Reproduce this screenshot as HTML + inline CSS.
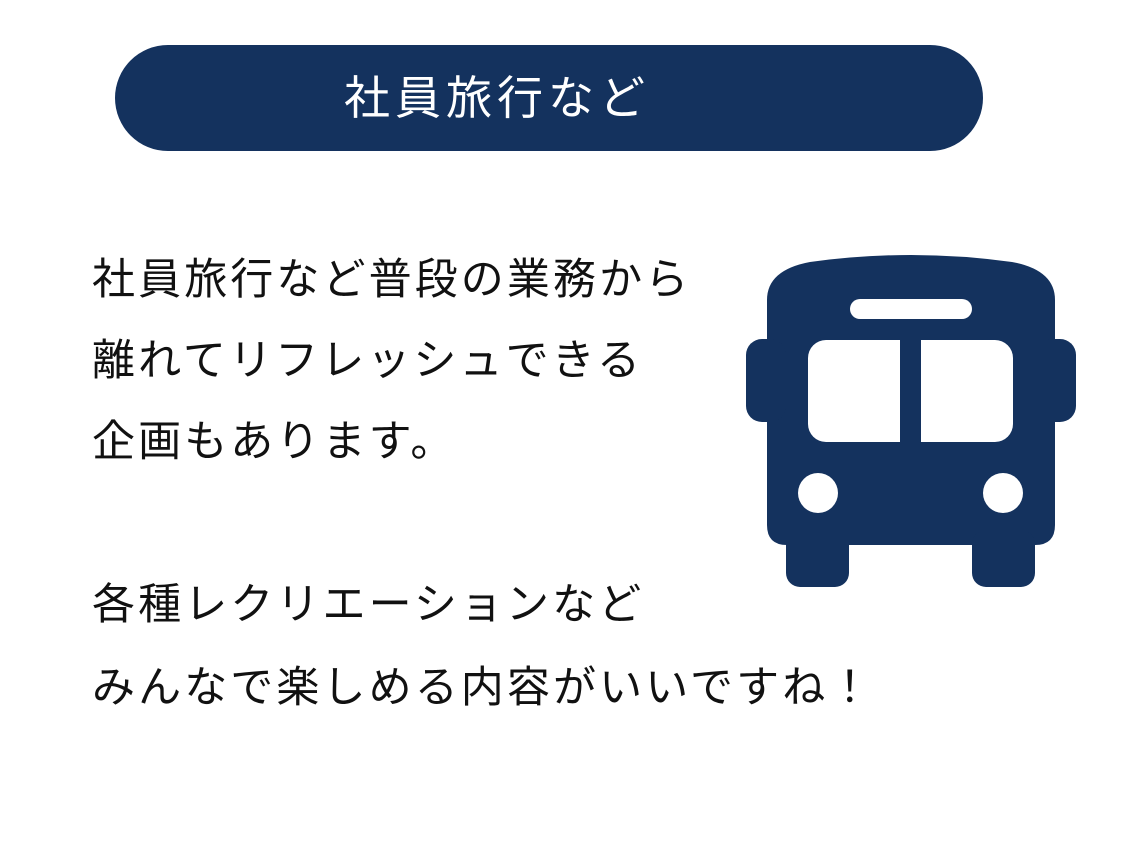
<!DOCTYPE html>
<html><head><meta charset="utf-8"><style>
body{margin:0;width:1134px;height:850px;background:#fff;position:relative;overflow:hidden;font-family:"Liberation Sans","Noto Sans CJK JP",sans-serif}
.pill{position:absolute;left:115px;top:45px;width:868px;height:106px;border-radius:53px;background:#14325e}
.pt{position:absolute;left:337px;top:45px;width:320px;text-align:center;color:#fff;font-size:46px;line-height:106px;letter-spacing:5px;white-space:nowrap}
.t{position:absolute;left:92px;font-size:43px;color:#111;white-space:nowrap;line-height:50px;letter-spacing:3.1px}
</style></head><body>
<div class="pill"></div>
<div class="pt">社員旅行など</div>
<div class="t" style="top:255px">社員旅行など普段の業務から</div>
<div class="t" style="top:336px">離れてリフレッシュできる</div>
<div class="t" style="top:417px">企画もあります。</div>
<div class="t" style="top:580px">各種レクリエーションなど</div>
<div class="t" style="top:663px">みんなで楽しめる内容がいいですね！</div>
<svg style="position:absolute;left:0;top:0" width="1134" height="850">
<g fill="#14325e">
<path d="M767 545 L767 300 Q767 270 810 262 Q911 248 1012 262 Q1055 270 1055 300 L1055 525 Q1055 545 1035 545 L787 545 Q767 545 767 525 Z"/>
<rect x="746" y="339" width="40" height="83" rx="16"/>
<rect x="1036" y="339" width="40" height="83" rx="16"/>
<rect x="786" y="530" width="63" height="57" rx="14"/>
<rect x="972" y="530" width="63" height="57" rx="14"/>
</g>
<g fill="#fff">
<rect x="850" y="299" width="122" height="20" rx="10"/>
<rect x="808" y="340" width="92" height="102" rx="18"/>
<rect x="921" y="340" width="92" height="102" rx="18"/>
<rect x="880" y="340" width="20" height="102"/>
<rect x="921" y="340" width="20" height="102"/>
<circle cx="818" cy="493" r="20"/>
<circle cx="1003" cy="493" r="20"/>
</g>
</svg>
</body></html>
